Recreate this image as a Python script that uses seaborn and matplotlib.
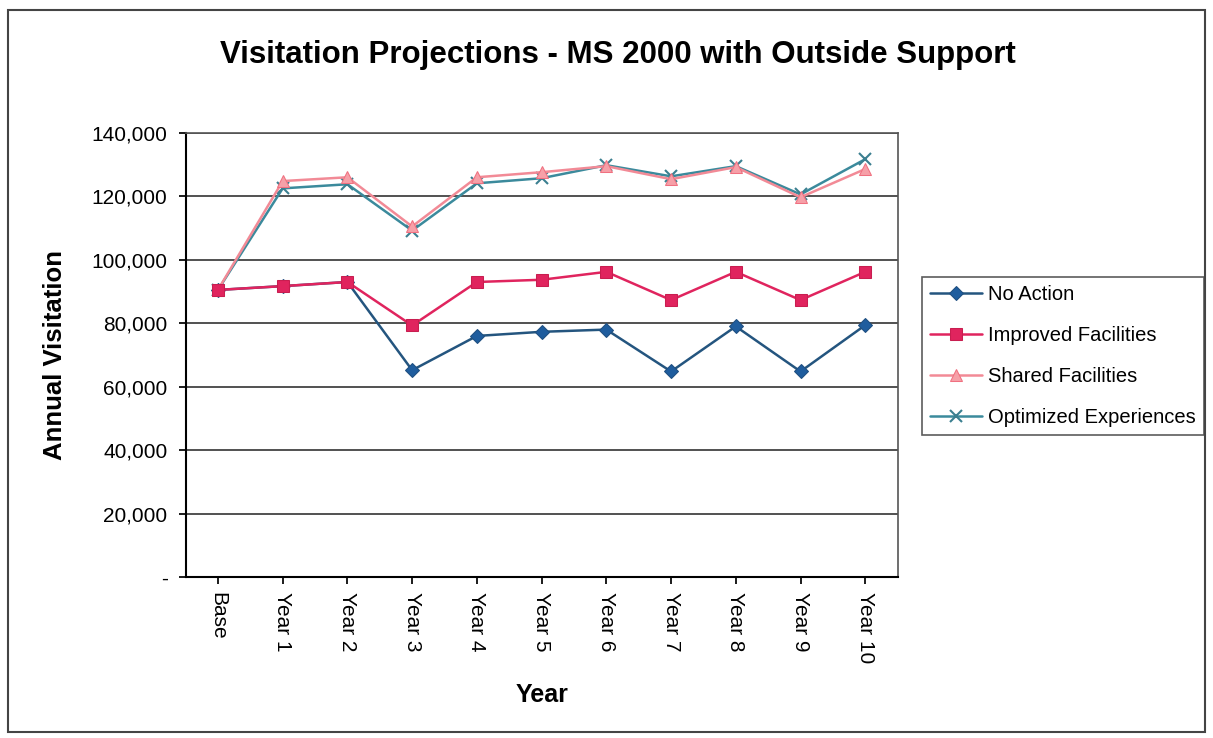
import matplotlib
matplotlib.use("Agg")
import matplotlib.pyplot as plt
import seaborn as sns
import pandas as pd
from matplotlib.patches import Rectangle
from matplotlib.ticker import FuncFormatter

categories = ["Base", "Year 1", "Year 2", "Year 3", "Year 4", "Year 5",
              "Year 6", "Year 7", "Year 8", "Year 9", "Year 10"]
no_action = [90500, 91700, 93000, 65200, 76000, 77300, 78000, 64800, 79000, 64800, 79400]
improved = [90500, 91700, 93000, 79300, 93000, 93700, 96200, 87300, 96200, 87300, 96200]
shared = [90500, 124800, 126000, 110500, 126000, 127600, 129500, 125400, 129200, 119700, 128600]
optimized = [90500, 122500, 123800, 109200, 124100, 125700, 129800, 126300, 129500, 120600, 131700]
series_names = ["No Action", "Improved Facilities", "Shared Facilities", "Optimized Experiences"]

rows = []
for name, vals in zip(series_names, [no_action, improved, shared, optimized]):
    for i, (c, v) in enumerate(zip(categories, vals)):
        rows.append({"Year": i, "Visitation": v, "Series": name})
df = pd.DataFrame(rows)

sns.set_theme(style="white")
plt.rcParams['font.family'] = ['Liberation Sans', 'DejaVu Sans']
plt.rcParams['text.color'] = 'black'
plt.rcParams['axes.labelcolor'] = 'black'
plt.rcParams['xtick.color'] = 'black'
plt.rcParams['ytick.color'] = 'black'

fig = plt.figure(figsize=(12.13, 7.38), dpi=100)
ax = fig.add_axes([0.153, 0.218, 0.587, 0.602])

line_colors = {"No Action": "#24557f", "Improved Facilities": "#e0245e",
               "Shared Facilities": "#f28a96", "Optimized Experiences": "#3b8a9c"}

order = ["Optimized Experiences", "Shared Facilities", "No Action", "Improved Facilities"]
marker_styles = {
    "No Action": dict(marker="D", markersize=7, markerfacecolor="#1f5d9e", markeredgecolor="#1f4f80"),
    "Improved Facilities": dict(marker="s", markersize=8, markerfacecolor="#e0245e", markeredgecolor="#c81e50"),
    "Shared Facilities": dict(marker="^", markersize=8, markerfacecolor="#f6a0a8", markeredgecolor="#f07080"),
    "Optimized Experiences": dict(marker="x", markersize=9, markeredgewidth=1.5, markeredgecolor="#3b7f90"),
}
for name in order:
    sub = df[df["Series"] == name]
    sns.lineplot(data=sub, x="Year", y="Visitation", ax=ax, color=line_colors[name],
                 linewidth=1.8, sort=False, label=name, zorder=3, **marker_styles[name])

ax.set_xlim(-0.5, 10.5)
ax.set_ylim(0, 140000)
ax.set_xticks(range(len(categories)))
ax.set_xticklabels(categories, rotation=-90, fontsize=15)
ax.set_yticks(range(0, 140001, 20000))
ax.yaxis.set_major_formatter(FuncFormatter(lambda v, p: "-" if v == 0 else f"{int(v):,}"))
ax.tick_params(axis="y", labelsize=15, length=5, direction="out", left=True, color="black", pad=8)
ax.tick_params(axis="x", length=5, direction="out", bottom=True, color="black", pad=6)
ax.yaxis.grid(True, color="#333333", linewidth=1.2)
ax.set_axisbelow(True)
for s in ["left", "bottom"]:
    ax.spines[s].set_color("black")
    ax.spines[s].set_linewidth(1.5)
for s in ["top", "right"]:
    ax.spines[s].set_color("#555555")
    ax.spines[s].set_linewidth(1.2)

ax.set_xlabel("Year", fontsize=18, fontweight="bold", labelpad=14)
ax.set_ylabel("Annual Visitation", fontsize=18.5, fontweight="bold", labelpad=18)
fig.text(0.509, 0.926, "Visitation Projections - MS 2000 with Outside Support",
         ha="center", va="center", fontsize=22.5, fontweight="bold")

handles, labels = ax.get_legend_handles_labels()
hmap = dict(zip(labels, handles))
leg = ax.legend([hmap[n] for n in series_names], series_names,
                loc="upper left", bbox_to_anchor=(0.760, 0.625), bbox_transform=fig.transFigure,
                borderaxespad=0, fontsize=14.5, frameon=True, fancybox=False, edgecolor="#333333",
                borderpad=0.4, labelspacing=1.1, handlelength=2.6, handletextpad=0.3)
leg.get_frame().set_linewidth(1.2)

fig.patches.append(Rectangle((0.007, 0.008), 0.986, 0.979, transform=fig.transFigure,
                             fill=False, edgecolor="#444444", linewidth=1.5))

fig.savefig("out.png", dpi=100)
